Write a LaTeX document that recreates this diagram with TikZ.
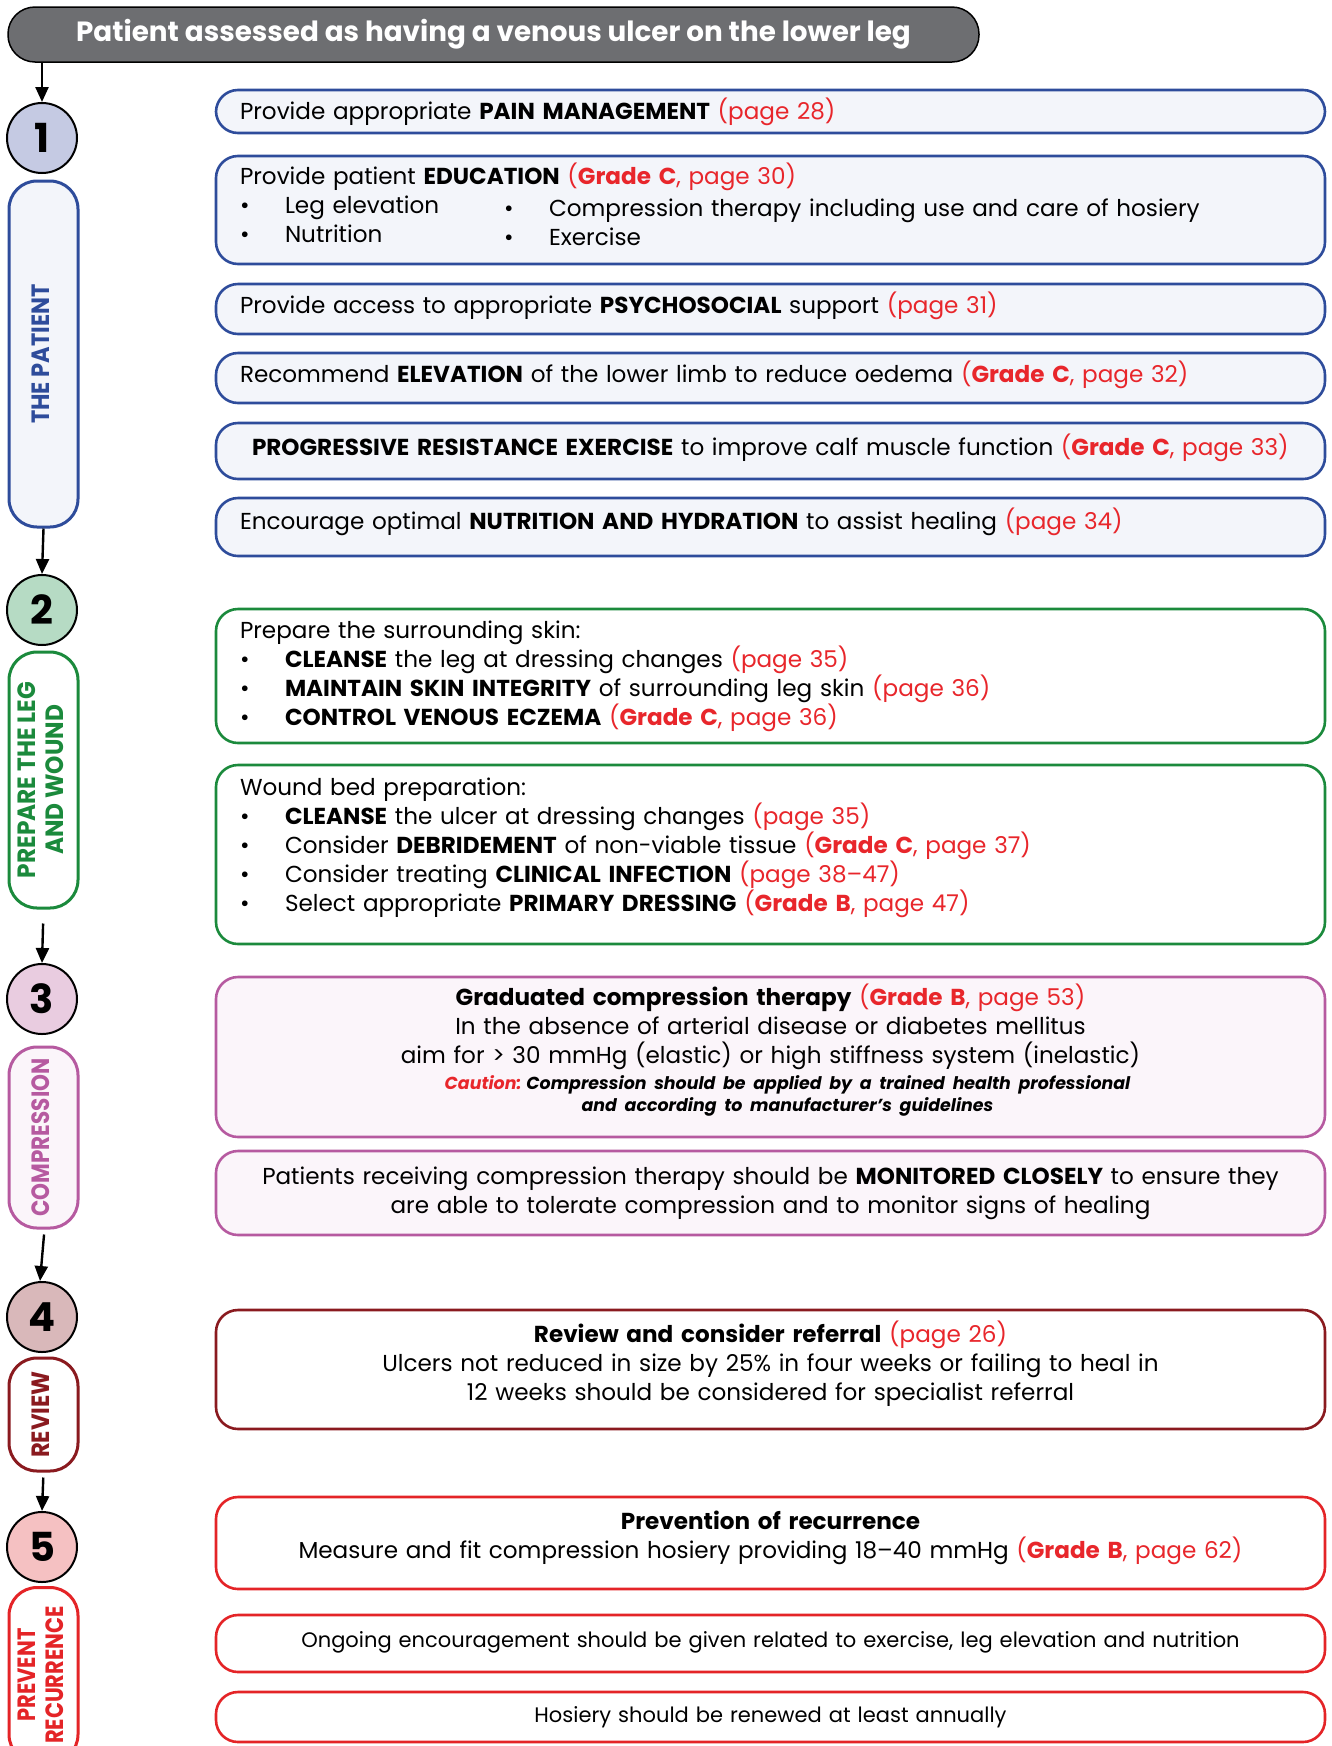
\documentclass[tikz,border=0pt]{standalone}
\usepackage{fontspec}
\setmainfont{Poppins}
\usetikzlibrary{arrows.meta,positioning}

\definecolor{bannergray}{HTML}{6D6E71}
\definecolor{patblue}{HTML}{2E4C9B}
\definecolor{patfill}{HTML}{F3F5FA}
\definecolor{leggreen}{HTML}{1B8A3C}
\definecolor{compink}{HTML}{B65AA0}
\definecolor{compfill}{HTML}{FBF5FA}
\definecolor{revred}{HTML}{8A1A1F}
\definecolor{prevred}{HTML}{E42427}
\definecolor{refred}{HTML}{E8262B}
\definecolor{numA}{HTML}{C5CAE3}
\definecolor{numB}{HTML}{B6DBC4}
\definecolor{numC}{HTML}{E9CCE0}
\definecolor{numD}{HTML}{D9B8BA}
\definecolor{numE}{HTML}{F5C1C2}

\newcommand{\txtfont}{\fontsize{23.1}{29}\selectfont}
\newcommand{\smallfont}{\fontsize{21}{25}\selectfont}
\newcommand{\pgref}[1]{\textcolor{refred}{(page #1)}}
\newcommand{\grref}[2]{\textcolor{refred}{(\textbf{Grade #1}, page #2)}}
\newcommand{\bitem}[1]{\makebox[45pt][l]{\textbullet}#1}
\newcommand{\vlabel}[2][0.9]{\scalebox{#1}[1]{\begin{tabular}{@{}c@{}}#2\end{tabular}}}
\newcommand{\lift}[1]{\rule[-#1pt]{0pt}{#1pt}}

\begin{document}
\begin{tikzpicture}[x=1pt,y=-1pt,
  banner/.style={draw=black, line width=1.5pt, fill=bannergray, rounded corners=27pt,
    minimum width=971pt, minimum height=55pt, text=white,
    font=\fontsize{27.8}{32}\selectfont\bfseries},
  stepnum/.style={circle, draw=black, line width=2pt, minimum size=70pt, inner sep=0pt,
    font=\fontsize{40}{40}\selectfont\bfseries},
  phase/.style={draw=#1, text=#1, line width=3pt, rounded corners=28pt, rotate=90,
    minimum height=69pt, inner sep=0pt, font=\fontsize{25}{28}\selectfont\bfseries},
  actbox/.style={draw=#1, line width=2.6pt, rounded corners=22pt, minimum width=1109pt,
    text width=1061pt, inner xsep=24pt, align=left, font=\txtfont},
  midbox/.style={actbox=#1, align=center},
  flow/.style={-{Triangle[length=15pt,width=13pt]}, line width=2.4pt}
]
\useasboundingbox (0,0) rectangle (1331,1746);

% ---- Banner ----
\node[banner] (start) at (493.5,34.5) {Patient assessed as having a venous ulcer on the lower leg};

% ---- Step numbers ----
\node[stepnum, fill=numA] (n1) at (42,138)  {1};
\node[stepnum, fill=numB] (n2) at (42,610)  {2};
\node[stepnum, fill=numC] (n3) at (42,999)  {3};
\node[stepnum, fill=numD] (n4) at (42,1317) {4};
\node[stepnum, fill=numE] (n5) at (42,1547) {5};

% ---- Phase labels ----
\node[phase=patblue,  fill=patfill,  minimum width=346pt] (ph1) at (43.5,354)    {\vlabel[0.9]{THE PATIENT}};
\node[phase=leggreen, fill=white,    minimum width=256pt] (ph2) at (43.5,780)    {\vlabel[0.93]{PREPARE THE LEG\\AND WOUND}};
\node[phase=compink,  fill=compfill, minimum width=181pt] (ph3) at (43.5,1137.5) {\vlabel[0.86]{COMPRESSION}};
\node[phase=revred,   fill=white,    minimum width=113pt] (ph4) at (43.5,1414.5) {\vlabel[0.91]{REVIEW}};
\node[phase=prevred,  fill=white,    minimum width=175pt] (ph5) at (43.5,1675)   {\vlabel[0.84]{PREVENT\\RECURRENCE}};

% ---- Flow arrows ----
\draw[flow] (start.south -| n1.north) -- (n1.north);
\draw[flow] (ph1.west) -- (n2.north);
\draw[flow, shorten <=14pt] (ph2.west) -- (n3.north);
\draw[flow, shorten <=5pt] ([xshift=1pt]ph3.west) -- ([xshift=-2pt]n4.north);
\draw[flow, shorten <=5pt] (ph4.west) -- (n5.north);

% ---- 1: the patient ----
\node[actbox=patblue, fill=patfill, minimum height=43pt] (pain) at (770.5,111.5)
  {Provide appropriate \textbf{PAIN MANAGEMENT} \pgref{28}};
\node[actbox=patblue, fill=patfill, minimum height=108pt] (educ) at (770.5,210)
  {Provide patient \textbf{EDUCATION} \grref{C}{30}\\
   \makebox[264pt][l]{\bitem{Leg elevation}}\raisebox{-3pt}{\bitem{Compression therapy including use and care of hosiery}}\\
   \makebox[264pt][l]{\bitem{Nutrition}}\raisebox{-3pt}{\bitem{Exercise}}\lift{14}};
\node[actbox=patblue, fill=patfill, minimum height=50pt] (psych) at (770.5,309)
  {Provide access to appropriate \textbf{PSYCHOSOCIAL} support \pgref{31}\lift{13}};
\node[actbox=patblue, fill=patfill, minimum height=50pt] (elev) at (770.5,378)
  {Recommend \textbf{ELEVATION} of the lower limb to reduce oedema \grref{C}{32}\lift{13}};
\node[actbox=patblue, fill=patfill, minimum height=56pt] (exer) at (770.5,451)
  {\hspace*{12pt}\textbf{PROGRESSIVE RESISTANCE EXERCISE} to improve calf muscle function \grref{C}{33}\lift{13}};
\node[actbox=patblue, fill=patfill, minimum height=58pt] (nutr) at (770.5,527)
  {Encourage optimal \textbf{NUTRITION AND HYDRATION} to assist healing \pgref{34}\lift{17}};

% ---- 2: leg and wound ----
\node[actbox=leggreen, fill=white, minimum height=134pt] (skin) at (770.5,676)
  {Prepare the surrounding skin:\\
   \bitem{\textbf{CLEANSE} the leg at dressing changes \pgref{35}}\\
   \bitem{\textbf{MAINTAIN SKIN INTEGRITY} of surrounding leg skin \pgref{36}}\\
   \bitem{\textbf{CONTROL VENOUS ECZEMA} \grref{C}{36}}};
\node[actbox=leggreen, fill=white, minimum height=179pt] (bed) at (770.5,854.5)
  {Wound bed preparation:\\
   \bitem{\textbf{CLEANSE} the ulcer at dressing changes \pgref{35}}\\
   \bitem{Consider \textbf{DEBRIDEMENT} of non-viable tissue \grref{C}{37}}\\
   \bitem{Consider treating \textbf{CLINICAL INFECTION} \pgref{38–47}}\\
   \bitem{Select appropriate \textbf{PRIMARY DRESSING} \grref{B}{47}}\lift{19}};

% ---- 3: compression ----
\node[midbox=compink, fill=compfill, minimum height=160pt] (grad) at (770.5,1057)
  {\textbf{Graduated compression therapy} \grref{B}{53}\\
   In the absence of arterial disease or diabetes mellitus\\
   aim for > 30 mmHg (elastic) or high stiffness system (inelastic)\par
   \vspace{4pt}{\fontsize{17.4}{22}\selectfont\bfseries\itshape%
   \hspace*{34pt}\textcolor{refred}{Caution:}\hspace{5pt}Compression should be applied by a trained health professional\\
   \hspace*{34pt}and according to manufacturer’s guidelines\lift{19}\par}};
\node[midbox=compink, fill=compfill, minimum height=84pt] (moni) at (770.5,1193)
  {Patients receiving compression therapy should be \textbf{MONITORED CLOSELY} to ensure they\\
   are able to tolerate compression and to monitor signs of healing};

% ---- 4: review ----
\node[midbox=revred, fill=white, minimum height=119pt] (refer) at (770.5,1369.5)
  {\textbf{Review and consider referral} \pgref{26}\\
   Ulcers not reduced in size by 25\% in four weeks or failing to heal in\\
   12 weeks should be considered for specialist referral\lift{17}};

% ---- 5: prevent recurrence ----
\node[midbox=prevred, fill=white, minimum height=92pt] (hose) at (770.5,1543)
  {\textbf{Prevention of recurrence}\\
   Measure and fit compression hosiery providing 18–40 mmHg \grref{B}{62}\lift{17}};
\node[midbox=prevred, fill=white, minimum height=57pt, font=\smallfont] (encour) at (770.5,1643.5)
  {Ongoing encouragement should be given related to exercise, leg elevation and nutrition\lift{9}};
\node[midbox=prevred, fill=white, minimum height=50pt, font=\smallfont] (renew) at (770.5,1717)
  {Hosiery should be renewed at least annually};

\end{tikzpicture}
\end{document}
